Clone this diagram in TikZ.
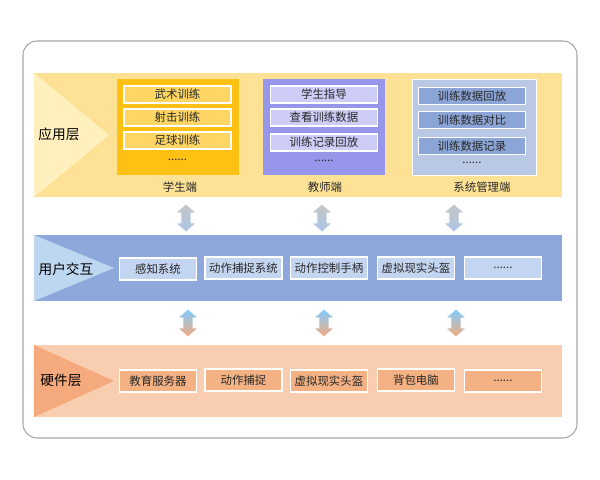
\documentclass[tikz,border=0pt]{standalone}
\usepackage{fontspec}
\setmainfont{Noto Sans CJK SC}
\usetikzlibrary{positioning}
\definecolor{BandYellow}{RGB}{253,226,150}
\definecolor{TriYellow}{RGB}{255,240,190}
\definecolor{StuOrange}{RGB}{255,192,20}
\definecolor{StuItem}{RGB}{255,214,100}
\definecolor{TeaPurple}{RGB}{150,150,235}
\definecolor{TeaItem}{RGB}{205,205,248}
\definecolor{AdmBlue}{RGB}{185,200,228}
\definecolor{AdmItem}{RGB}{140,165,215}
\definecolor{BandBlue}{RGB}{142,168,219}
\definecolor{TriBlue}{RGB}{190,215,240}
\definecolor{UsrItem}{RGB}{195,213,240}
\definecolor{BandPeach}{RGB}{249,205,175}
\definecolor{TriPeach}{RGB}{245,170,125}
\definecolor{HwItem}{RGB}{244,177,131}
\definecolor{FontColor}{RGB}{40,40,40}
\tikzset{
  item/.style={draw=white, line width=0.6pt, minimum width=107*0.02cm, minimum height=17*0.02cm, inner sep=0pt, text=FontColor, font=\fontsize{6.5}{7}\selectfont},
  rowitem/.style={item, minimum width=77*0.02cm, minimum height=22*0.02cm},
  caption/.style={text=FontColor, font=\fontsize{6.5}{7}\selectfont},
  layerlabel/.style={text=black, font=\fontsize{7.8}{8}\selectfont}
}
\newcommand{\dblarrow}[4]{% x, y top, top colour, bottom colour
  \shade[top color=#3, bottom color=#4, draw=white, line width=0.3pt]
    (#1,#2) -- (#1+10,#2+9) -- (#1+5,#2+9) -- (#1+5,#2+19) -- (#1+10,#2+19) -- (#1,#2+28)
    -- (#1-10,#2+19) -- (#1-5,#2+19) -- (#1-5,#2+9) -- (#1-10,#2+9) -- cycle;}
\begin{document}
\begin{tikzpicture}[x=0.02cm, y=-0.02cm]
    \useasboundingbox (0,0) rectangle (600,480);
    \draw[gray!70, rounded corners=8pt, line width=0.6pt] (23,41) rectangle (577,438);

    % application layer
    \fill[BandYellow] (34,73) rectangle (562,197);
    \fill[TriYellow] (34,73) -- (109,135) -- (34,197) -- cycle;
    \node[layerlabel] (app) at (59,134) {应用层};

    \node[fill=StuOrange, minimum width=122*0.02cm, minimum height=96*0.02cm] (stu) at (178,127.5) {};
    \node[item, fill=StuItem] (stu1) at (177.5,94.5) {武术训练};
    \node[item, fill=StuItem] (stu2) at (177.5,117.5) {射击训练};
    \node[item, fill=StuItem] (stu3) at (177.5,140.5) {足球训练};
    \node[caption] (stu4) at (177.5,160) {......};
    \node[caption] (stulabel) at (180,187) {学生端};

    \node[fill=TeaPurple, minimum width=122*0.02cm, minimum height=96*0.02cm] (tea) at (324,127.5) {};
    \node[item, fill=TeaItem] (tea1) at (324,94.5) {学生指导};
    \node[item, fill=TeaItem] (tea2) at (324,117.5) {查看训练数据};
    \node[item, fill=TeaItem] (tea3) at (324,142.5) {训练记录回放};
    \node[caption] (tea4) at (324,161) {......};
    \node[caption] (tealabel) at (325,187) {教师端};

    \node[fill=AdmBlue, draw=white, minimum width=124*0.02cm, minimum height=96*0.02cm] (adm) at (474,127.5) {};
    \node[item, fill=AdmItem] (adm1) at (472,96) {训练数据回放};
    \node[item, fill=AdmItem] (adm2) at (472,120) {训练数据对比};
    \node[item, fill=AdmItem] (adm3) at (472,146) {训练数据记录};
    \node[caption] (adm4) at (472,163) {......};
    \node[caption] (admlabel) at (482,187) {系统管理端};

    \dblarrow{186}{204}{gray!45}{TriBlue!60!BandBlue}
    \dblarrow{322}{204}{gray!45}{TriBlue!60!BandBlue}
    \dblarrow{454}{204}{gray!45}{TriBlue!60!BandBlue}

    % user interaction layer
    \fill[BandBlue] (34,235) rectangle (562,301);
    \fill[TriBlue] (34,235) -- (114,268) -- (34,301) -- cycle;
    \node[layerlabel] (usr) at (66,269) {用户交互};
    \node[rowitem, fill=UsrItem] (usr1) at (158,269) {感知系统};
    \node[rowitem, fill=UsrItem] (usr2) at (243.5,268) {动作捕捉系统};
    \node[rowitem, fill=UsrItem] (usr3) at (329,268) {动作控制手柄};
    \node[rowitem, fill=UsrItem] (usr4) at (416,268) {虚拟现实头盔};
    \node[rowitem, fill=UsrItem] (usr5) at (503,268) {......};

    \dblarrow{188}{309}{cyan!60!blue!50}{TriPeach}
    \dblarrow{324}{309}{cyan!60!blue!50}{TriPeach}
    \dblarrow{456}{309}{cyan!60!blue!50}{TriPeach}

    % hardware layer
    \fill[BandPeach] (34,345) rectangle (562,417);
    \fill[TriPeach] (34,345) -- (114,381) -- (34,417) -- cycle;
    \node[layerlabel] (hw) at (61,380) {硬件层};
    \node[rowitem, fill=HwItem] (hw1) at (158,381) {教育服务器};
    \node[rowitem, fill=HwItem] (hw2) at (243.5,380) {动作捕捉};
    \node[rowitem, fill=HwItem] (hw3) at (329,381) {虚拟现实头盔};
    \node[rowitem, fill=HwItem] (hw4) at (416,380) {背包电脑};
    \node[rowitem, fill=HwItem] (hw5) at (503,381) {......};
\end{tikzpicture}
\end{document}
